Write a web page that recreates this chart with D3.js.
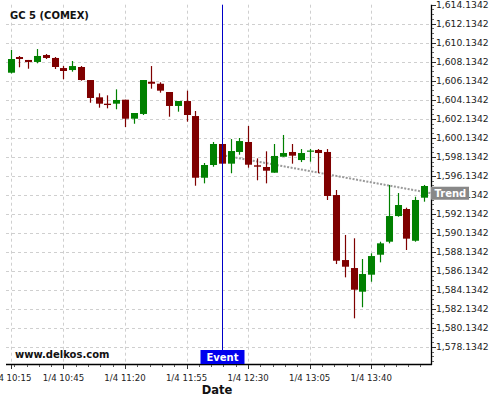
<!DOCTYPE html>
<html>
<head>
<meta charset="utf-8">
<script src="https://cdn.jsdelivr.net/npm/d3@7/dist/d3.min.js"></script>
<style>
  html, body { margin: 0; padding: 0; background: #fff; }
  svg { display: block; font-family: "DejaVu Sans", sans-serif; }
</style>
</head>
<body>
<svg id="chart" width="500" height="400"></svg>
<script>
// ---- data ----
const times = ["10:15","10:20","10:25","10:30","10:35","10:40","10:45","10:50","10:55","11:00",
  "11:05","11:10","11:15","11:20","11:25","11:30","11:35","11:40","11:45","11:50",
  "11:55","12:00","12:05","12:10","12:15","12:20","12:25","12:30","12:35","12:40",
  "12:45","12:50","12:55","13:00","13:05","13:10","13:15","13:20","13:25","13:30",
  "13:35","13:40","13:45","13:50","13:55","14:00","14:05","14:10"];
const open  = [1606.98,1608.63,1608.32,1608.11,1608.84,1608.53,1607.47,1607.26,1607.58,1606.21,
  1604.39,1603.72,1603.72,1604.14,1602.14,1602.64,1606.03,1605.82,1604.95,1603.48,
  1604.00,1602.42,1595.93,1597.27,1599.48,1597.41,1598.64,1599.69,1597.24,1597.06,
  1596.46,1598.14,1598.64,1597.79,1598.69,1598.85,1598.64,1594.11,1587.27,1586.43,
  1583.94,1585.73,1587.83,1589.20,1591.90,1592.64,1589.30,1593.83];
const high  = [1609.37,1608.74,1608.32,1609.47,1608.95,1608.63,1607.68,1608.21,1607.68,1606.21,
  1604.81,1604.60,1605.23,1604.14,1602.74,1606.21,1607.68,1605.97,1604.95,1604.00,
  1605.09,1602.95,1597.48,1599.69,1599.48,1600.00,1600.11,1601.37,1597.97,1598.71,
  1599.48,1600.43,1599.48,1598.95,1598.95,1598.95,1598.95,1594.64,1589.91,1589.56,
  1587.38,1587.98,1589.20,1595.17,1594.32,1592.78,1593.93,1595.17];
const low   = [1606.90,1607.55,1607.40,1607.97,1608.42,1607.37,1606.29,1607.09,1606.14,1603.82,
  1603.30,1603.23,1603.13,1601.27,1601.61,1602.53,1605.30,1604.88,1602.35,1602.88,
  1601.83,1595.09,1595.34,1597.09,1597.41,1596.40,1598.35,1596.99,1595.66,1595.34,
  1596.46,1598.14,1597.41,1597.58,1597.62,1596.43,1593.59,1586.85,1585.45,1581.14,
  1582.30,1584.99,1587.03,1589.03,1591.83,1588.33,1589.20,1593.41];
const close = [1608.42,1608.42,1608.11,1608.74,1608.53,1607.58,1607.16,1607.68,1606.21,1604.32,
  1603.72,1603.58,1604.11,1602.14,1602.74,1606.21,1605.82,1605.09,1603.48,1604.00,
  1602.53,1595.93,1597.27,1599.48,1597.41,1598.74,1599.79,1597.30,1597.09,1596.67,
  1598.22,1598.53,1598.25,1598.53,1598.79,1598.53,1594.01,1587.20,1586.57,1584.15,
  1585.80,1587.69,1589.03,1591.90,1593.06,1589.52,1593.59,1595.06];
const xTickTimes = ["10:15","10:45","11:20","11:55","12:30","13:05","13:40"];
const dateLabel = "1/4";
const yTickValues = d3.range(1578.1342, 1614.2, 2);
const yDomain = [1576.3342, 1614.1342];
const eventTime = "12:15";
const eventLabel = "Event";
const trendTimes = ["12:15", "14:14"];
const trendValues = [1598.32, 1594.30];
const trendLabel = "Trend";
const title = "GC 5 (COMEX)";
const watermark = "www.delkos.com";
const xTitle = "Date";

// ---- helpers ----
const parse = s => { const [h, m] = s.split(":").map(Number); return new Date(2012, 0, 4, h, m); };
const dates = times.map(parse);
const data = dates.map((d, i) => ({ d, o: open[i], h: high[i], l: low[i], c: close[i] }));

const pLeft = 6, pRight = 431, pTop = 4.7, pBottom = 364;
const t0 = new Date(dates[0].getTime() - 2.67 * 60000);
const t1 = new Date(dates[dates.length - 1].getTime() + 4 * 60000);
const x = d3.scaleTime().domain([t0, t1]).range([pLeft, pRight]);
const y = d3.scaleLinear().domain(yDomain).range([pBottom, pTop]);
const bw = (x(dates[1]) - x(dates[0])) * 0.8;

const svg = d3.select("#chart");

// gridlines
const grid = svg.append("g").attr("stroke", "#cfcfcf").attr("stroke-dasharray", "3,3").attr("stroke-width", 1);
grid.selectAll("line.h").data(yTickValues.filter(v => y(v) > pTop + 1)).join("line")
  .attr("x1", pLeft).attr("x2", pRight)
  .attr("y1", d => Math.round(y(d)) + 0.5).attr("y2", d => Math.round(y(d)) + 0.5);
grid.selectAll("line.v").data(xTickTimes.map(parse)).join("line")
  .attr("x1", d => Math.round(x(d)) + 0.5).attr("x2", d => Math.round(x(d)) + 0.5)
  .attr("y1", pTop).attr("y2", pBottom);

// trend line
const trendLine = d3.line().x(d => x(d[0])).y(d => y(d[1]));
svg.append("path")
  .attr("d", trendLine(trendTimes.map((t, i) => [parse(t), trendValues[i]])))
  .attr("fill", "none").attr("stroke", "#9a9a9a").attr("stroke-width", 2)
  .attr("stroke-dasharray", "2,1.5");

// candles
const up = "#008000", down = "#7f0000";
const cg = svg.append("g");
cg.selectAll("line").data(data).join("line")
  .attr("x1", d => Math.round(x(d.d)) + 0.5).attr("x2", d => Math.round(x(d.d)) + 0.5)
  .attr("y1", d => y(d.h)).attr("y2", d => y(d.l))
  .attr("stroke", d => d.c >= d.o ? up : down).attr("stroke-width", 1.2);
cg.selectAll("rect").data(data).join("rect")
  .attr("x", d => Math.round(x(d.d)) + 0.5 - bw / 2)
  .attr("width", bw)
  .attr("y", d => y(Math.max(d.o, d.c)))
  .attr("height", d => Math.max(1.2, Math.abs(y(d.o) - y(d.c))))
  .attr("fill", d => d.c >= d.o ? up : down);

// event line
const ex = Math.round(x(parse(eventTime))) + 0.5;
svg.append("line").attr("x1", ex).attr("x2", ex).attr("y1", pTop).attr("y2", pBottom)
  .attr("stroke", "#0000c8").attr("stroke-width", 1);

// axes
const xAxis = svg.append("g").attr("transform", `translate(0,${pBottom})`);
xAxis.append("line").attr("x1", pLeft).attr("x2", pRight + 1).attr("y1", 0.5).attr("y2", 0.5)
  .attr("stroke", "#000").attr("stroke-width", 1.3);
// minor ticks every 7 minutes from 10:45
const minor = [];
for (let t = parse("10:45").getTime() - 4 * 7 * 60000; t <= t1.getTime(); t += 7 * 60000) minor.push(new Date(t));
xAxis.selectAll("line.minor").data(minor.filter(d => x(d) >= pLeft && x(d) <= pRight)).join("line")
  .attr("class", "minor")
  .attr("x1", d => Math.round(x(d)) + 0.5).attr("x2", d => Math.round(x(d)) + 0.5)
  .attr("y1", 1).attr("y2", 3).attr("stroke", "#555");
xAxis.selectAll("line.major").data(xTickTimes.map(parse)).join("line")
  .attr("class", "major")
  .attr("x1", d => Math.round(x(d)) + 0.5).attr("x2", d => Math.round(x(d)) + 0.5)
  .attr("y1", 1).attr("y2", 5).attr("stroke", "#333");
xAxis.selectAll("text").data(xTickTimes).join("text")
  .attr("x", d => x(parse(d))).attr("y", 17)
  .attr("text-anchor", "middle").attr("font-size", "8.6px").attr("fill", "#222")
  .text(d => `${dateLabel} ${d}`);

const yAxis = svg.append("g").attr("transform", `translate(${pRight},0)`);
yAxis.append("line").attr("x1", 0.5).attr("x2", 0.5).attr("y1", pTop).attr("y2", pBottom + 1)
  .attr("stroke", "#000").attr("stroke-width", 1.3);
yAxis.selectAll("line.minor").data(d3.range(1576.6342, 1614.2, 0.5)).join("line")
  .attr("class", "minor")
  .attr("x1", 1).attr("x2", 3)
  .attr("y1", d => Math.round(y(d)) + 0.5).attr("y2", d => Math.round(y(d)) + 0.5)
  .attr("stroke", "#666");
yAxis.selectAll("line.major").data(yTickValues).join("line")
  .attr("class", "major")
  .attr("x1", 1).attr("x2", 5)
  .attr("y1", d => Math.round(y(d)) + 0.5).attr("y2", d => Math.round(y(d)) + 0.5)
  .attr("stroke", "#333");
const fmt = d3.format(",.4f");
yAxis.selectAll("text").data(yTickValues).join("text")
  .attr("x", 5).attr("y", d => y(d)).attr("dy", "0.35em")
  .attr("font-size", "9.2px").attr("fill", "#222")
  .text(d => fmt(d));

// trend label
const ty = y(trendValues[1]);
svg.append("rect").attr("x", pRight).attr("y", ty - 6.5).attr("width", 38).attr("height", 13).attr("fill", "#888");
svg.append("text").attr("x", pRight + 3.5).attr("y", ty).attr("dy", "0.36em")
  .attr("font-size", "10px").attr("font-weight", "bold").attr("fill", "#fff").text(trendLabel);

// event label
svg.append("rect").attr("x", ex - 22).attr("y", pBottom - 14).attr("width", 44).attr("height", 14).attr("fill", "#0000ee");
svg.append("text").attr("x", ex).attr("y", pBottom - 7).attr("dy", "0.36em").attr("text-anchor", "middle")
  .attr("font-size", "10px").attr("font-weight", "bold").attr("fill", "#fff").text(eventLabel);

// texts
svg.append("text").attr("x", 10).attr("y", 19).attr("font-size", "10px").attr("font-weight", "bold")
  .attr("fill", "#111").text(title);
svg.append("text").attr("x", 15).attr("y", 358).attr("font-size", "10px").attr("font-weight", "bold")
  .attr("fill", "#111").text(watermark);
svg.append("text").attr("x", 217).attr("y", 394).attr("text-anchor", "middle")
  .attr("font-size", "11.5px").attr("font-weight", "bold").attr("fill", "#111").text(xTitle);
</script>
</body>
</html>
